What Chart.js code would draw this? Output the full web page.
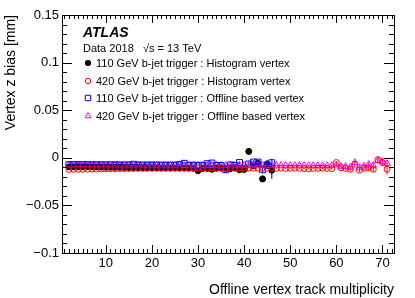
<!DOCTYPE html>
<html>
<head>
<meta charset="utf-8">
<script src="https://cdn.jsdelivr.net/npm/chart.js@4"></script>
<style>
  body { margin: 0; background: #fff; }
  #wrap { width: 415px; height: 298px; }
</style>
</head>
<body>
<div id="wrap"><canvas id="vz"></canvas></div>
<script>
// track multiplicity bins
const mult110 = [2,3,4,5,6,7,8,9,10,11,12,13,14,15,16,17,18,19,20,21,22,23,24,25,26,27,28,29,30,31,32,33,34,35,36,37,38,39,40,41,42,43,44,45,46];
const mult420 = [2,3,4,5,6,7,8,9,10,11,12,13,14,15,16,17,18,19,20,21,22,23,24,25,26,27,28,29,30,31,32,33,34,35,36,37,38,39,40,41,42,43,44,45,46,47,48,49,50,51,52,53,54,55,56,57,58,59,60,61,62,63,64,65,66,67,68,69,70,71];

// 110 GeV b-jet trigger : Histogram vertex
const hist110 = [-0.0095,-0.0095,-0.0094,-0.0095,-0.0094,-0.0096,-0.0096,-0.0097,-0.0098,-0.0099,-0.0099,-0.0100,-0.0101,-0.0101,-0.0102,-0.0103,-0.0103,-0.0104,-0.0105,-0.0105,-0.0106,-0.0106,-0.0107,-0.0107,-0.0108,-0.0108,-0.0109,-0.0110,-0.0135,-0.0112,-0.0112,-0.0120,-0.0110,-0.0108,-0.0112,-0.0115,-0.0108,-0.0125,-0.0122,0.0067,-0.0085,-0.0060,-0.0222,-0.0065,-0.0130];
const hist110Err = [0.0003,0.0003,0.0003,0.0003,0.0003,0.0003,0.0003,0.0003,0.0003,0.0003,0.0003,0.0003,0.0003,0.0003,0.0003,0.0003,0.0003,0.0003,0.0003,0.0003,0.0003,0.0003,0.0003,0.0003,0.0004,0.0004,0.0004,0.0005,0.0006,0.0006,0.0007,0.0008,0.0009,0.0010,0.0011,0.0012,0.0014,0.0016,0.0018,0.0035,0.0022,0.0028,0.0035,0.0040,0.0090];

// 420 GeV b-jet trigger : Histogram vertex
const hist420 = [-0.0122,-0.0121,-0.0120,-0.0120,-0.0119,-0.0118,-0.0118,-0.0117,-0.0116,-0.0115,-0.0114,-0.0114,-0.0113,-0.0112,-0.0112,-0.0111,-0.0111,-0.0110,-0.0110,-0.0110,-0.0109,-0.0109,-0.0109,-0.0108,-0.0108,-0.0108,-0.0108,-0.0107,-0.0107,-0.0107,-0.0107,-0.0107,-0.0106,-0.0106,-0.0106,-0.0106,-0.0107,-0.0107,-0.0108,-0.0108,-0.0109,-0.0109,-0.0110,-0.0110,-0.0110,-0.0110,-0.0108,-0.0112,-0.0110,-0.0109,-0.0111,-0.0113,-0.0115,-0.0112,-0.0110,-0.0108,-0.0112,-0.0114,-0.0050,-0.0105,-0.0112,-0.0120,-0.0068,-0.0130,-0.0110,-0.0105,-0.0120,-0.0020,-0.0050,-0.0120];
const hist420Err = [0.0003,0.0003,0.0003,0.0003,0.0003,0.0003,0.0003,0.0003,0.0003,0.0003,0.0003,0.0003,0.0003,0.0003,0.0003,0.0003,0.0003,0.0003,0.0003,0.0003,0.0003,0.0003,0.0003,0.0003,0.0003,0.0003,0.0003,0.0003,0.0003,0.0003,0.0003,0.0003,0.0003,0.0003,0.0003,0.0003,0.0003,0.0003,0.0004,0.0004,0.0004,0.0004,0.0005,0.0005,0.0005,0.0005,0.0006,0.0006,0.0007,0.0007,0.0008,0.0008,0.0009,0.0009,0.0010,0.0011,0.0012,0.0013,0.0014,0.0015,0.0016,0.0018,0.0020,0.0022,0.0024,0.0026,0.0028,0.0030,0.0032,0.0055];

// 110 GeV b-jet trigger : Offline based vertex
const offl110 = [-0.0072,-0.0072,-0.0071,-0.0072,-0.0072,-0.0073,-0.0073,-0.0073,-0.0074,-0.0074,-0.0074,-0.0075,-0.0075,-0.0075,-0.0068,-0.0075,-0.0076,-0.0076,-0.0076,-0.0076,-0.0077,-0.0077,-0.0077,-0.0077,-0.0072,-0.0058,-0.0078,-0.0078,-0.0079,-0.0080,-0.0062,-0.0055,-0.0080,-0.0082,-0.0125,-0.0075,-0.0080,-0.0050,-0.0110,-0.0065,-0.0045,-0.0045,-0.0125,-0.0080,-0.0052];
const offl110Err = [0.0003,0.0003,0.0003,0.0003,0.0003,0.0003,0.0003,0.0003,0.0003,0.0003,0.0003,0.0003,0.0003,0.0003,0.0003,0.0003,0.0003,0.0003,0.0003,0.0003,0.0003,0.0003,0.0003,0.0003,0.0004,0.0004,0.0004,0.0005,0.0005,0.0006,0.0007,0.0008,0.0009,0.0010,0.0011,0.0012,0.0013,0.0015,0.0017,0.0019,0.0022,0.0025,0.0028,0.0032,0.0040];

// 420 GeV b-jet trigger : Offline based vertex
const offl420 = [-0.0082,-0.0082,-0.0081,-0.0081,-0.0081,-0.0080,-0.0080,-0.0080,-0.0080,-0.0080,-0.0080,-0.0080,-0.0080,-0.0080,-0.0080,-0.0080,-0.0080,-0.0080,-0.0080,-0.0080,-0.0080,-0.0080,-0.0080,-0.0080,-0.0080,-0.0080,-0.0080,-0.0080,-0.0080,-0.0080,-0.0080,-0.0079,-0.0079,-0.0079,-0.0079,-0.0079,-0.0079,-0.0079,-0.0079,-0.0079,-0.0079,-0.0079,-0.0079,-0.0079,-0.0079,-0.0079,-0.0079,-0.0080,-0.0080,-0.0080,-0.0080,-0.0081,-0.0081,-0.0081,-0.0082,-0.0080,-0.0082,-0.0082,-0.0075,-0.0090,-0.0090,-0.0100,-0.0050,-0.0100,-0.0085,-0.0070,-0.0080,-0.0030,-0.0040,-0.0060];
const offl420Err = [0.0003,0.0003,0.0003,0.0003,0.0003,0.0003,0.0003,0.0003,0.0003,0.0003,0.0003,0.0003,0.0003,0.0003,0.0003,0.0003,0.0003,0.0003,0.0003,0.0003,0.0003,0.0003,0.0003,0.0003,0.0003,0.0003,0.0003,0.0003,0.0003,0.0003,0.0003,0.0003,0.0003,0.0003,0.0003,0.0003,0.0003,0.0003,0.0004,0.0004,0.0004,0.0004,0.0005,0.0005,0.0005,0.0005,0.0006,0.0006,0.0007,0.0007,0.0008,0.0008,0.0009,0.0009,0.0010,0.0011,0.0012,0.0013,0.0014,0.0015,0.0016,0.0018,0.0020,0.0022,0.0024,0.0026,0.0028,0.0030,0.0032,0.0040];

const xTicks = [10, 20, 30, 40, 50, 60, 70];
const xTickLabels = ['10', '20', '30', '40', '50', '60', '70'];
const yTicks = [-0.1, -0.05, 0, 0.05, 0.1, 0.15];
const yTickLabels = ['\u22120.1', '\u22120.05', '0', '0.05', '0.1', '0.15'];
const legendLabels = [
    '110 GeV b-jet trigger : Histogram vertex',
    '420 GeV b-jet trigger : Histogram vertex',
    '110 GeV b-jet trigger : Offline based vertex',
    '420 GeV b-jet trigger : Offline based vertex'
];

function pts(xs, ys, es){
    return xs.map((x, i) => ({x: x, y: ys[i], e: es[i]}));
}

const FONT = '"Liberation Sans", Arial, Helvetica, sans-serif';

// error bars under the markers
const errorBars = {
    id: 'errorBars',
    beforeDatasetsDraw(chart){
        const ctx = chart.ctx;
        const ys = chart.scales.y;
        ctx.save();
        chart.data.datasets.forEach((ds, di) => {
            const meta = chart.getDatasetMeta(di);
            ctx.strokeStyle = ds.borderColor;
            ctx.lineWidth = 1;
            meta.data.forEach((p, i) => {
                const d = ds.data[i];
                const top = ys.getPixelForValue(d.y + d.e);
                const bot = ys.getPixelForValue(d.y - d.e);
                ctx.beginPath();
                ctx.moveTo(p.x, top);
                ctx.lineTo(p.x, bot);
                ctx.stroke();
            });
        });
        ctx.restore();
    }
};

// ROOT style frame, inward ticks, labels and legend
const atlasFrame = {
    id: 'atlasFrame',
    afterDraw(chart){
        const ctx = chart.ctx;
        const a = chart.chartArea;
        const xs = chart.scales.x;
        const ys = chart.scales.y;
        ctx.save();
        ctx.strokeStyle = '#000';
        ctx.lineWidth = 1;
        ctx.strokeRect(Math.round(a.left) + 0.5, Math.round(a.top) + 0.5, Math.round(a.right - a.left), Math.round(a.bottom - a.top));

        ctx.beginPath();
        for(let v = 1; v <= 72; v++){
            const px = Math.round(xs.getPixelForValue(v)) + 0.5;
            const len = (v % 10 === 0) ? 8 : 4;
            ctx.moveTo(px, a.bottom); ctx.lineTo(px, a.bottom - len);
            ctx.moveTo(px, a.top); ctx.lineTo(px, a.top + len);
        }
        for(let k = -10; k <= 15; k++){
            const py = Math.round(ys.getPixelForValue(k / 100)) + 0.5;
            const len = (k % 5 === 0) ? 10 : 5;
            ctx.moveTo(a.left, py); ctx.lineTo(a.left + len, py);
            ctx.moveTo(a.right, py); ctx.lineTo(a.right - len, py);
        }
        ctx.stroke();

        ctx.fillStyle = '#000';
        ctx.font = '13px ' + FONT;
        ctx.textAlign = 'center';
        ctx.textBaseline = 'top';
        xTicks.forEach((v, i) => ctx.fillText(xTickLabels[i], xs.getPixelForValue(v), a.bottom + 4));
        ctx.textAlign = 'right';
        ctx.textBaseline = 'middle';
        yTicks.forEach((v, i) => ctx.fillText(yTickLabels[i], a.left - 3, ys.getPixelForValue(v)));

        ctx.font = '14px ' + FONT;
        ctx.textAlign = 'right';
        ctx.textBaseline = 'alphabetic';
        ctx.fillText('Offline vertex track multiplicity', a.right, 294);
        ctx.save();
        ctx.translate(15, a.top);
        ctx.rotate(-Math.PI / 2);
        ctx.textAlign = 'right';
        ctx.fillText('Vertex z bias [mm]', 0, 0);
        ctx.restore();

        ctx.textAlign = 'left';
        ctx.font = 'italic bold 14px ' + FONT;
        ctx.fillText('ATLAS', 83, 37);
        ctx.font = '11px ' + FONT;
        ctx.fillText('Data 2018   \u221As = 13 TeV', 83, 52);

        const rows = [63, 81, 98, 116];
        legendLabels.forEach((label, i) => {
            const ds = chart.data.datasets.find(d => d.label === label);
            ctx.textBaseline = 'middle';
            ctx.fillStyle = '#000';
            ctx.font = '11px ' + FONT;
            ctx.fillText(label, 96, rows[i] + 0.5);
            ctx.strokeStyle = ds.borderColor;
            ctx.fillStyle = ds.backgroundColor;
            ctx.lineWidth = 1;
            Chart.helpers.drawPoint(ctx, {pointStyle: ds.pointStyle, radius: ds.pointRadius * 0.9, borderWidth: 1}, 88, rows[i]);
        });
        ctx.restore();
    }
};

new Chart(document.getElementById('vz'), {
    type: 'scatter',
    data: {
        datasets: [
            {
                label: legendLabels[1],
                data: pts(mult420, hist420, hist420Err),
                pointStyle: 'circle',
                pointRadius: 3,
                borderWidth: 1,
                borderColor: '#ff0000',
                backgroundColor: 'rgba(0,0,0,0)'
            },
            {
                label: legendLabels[2],
                data: pts(mult110, offl110, offl110Err),
                pointStyle: 'rect',
                pointRadius: 4.2,
                borderWidth: 1,
                borderColor: '#0000ff',
                backgroundColor: 'rgba(0,0,0,0)'
            },
            {
                label: legendLabels[3],
                data: pts(mult420, offl420, offl420Err),
                pointStyle: 'triangle',
                pointRadius: 3.8,
                borderWidth: 1,
                borderColor: '#ff00ff',
                backgroundColor: 'rgba(0,0,0,0)'
            },
            {
                label: legendLabels[0],
                data: pts(mult110, hist110, hist110Err),
                pointStyle: 'circle',
                pointRadius: 3,
                borderWidth: 1,
                borderColor: '#000000',
                backgroundColor: '#000000'
            }
        ]
    },
    options: {
        responsive: true,
        maintainAspectRatio: false,
        animation: false,
        layout: { padding: { left: 62, right: 21, top: 15, bottom: 45 } },
        plugins: { legend: { display: false }, tooltip: { enabled: false } },
        scales: {
            x: { type: 'linear', min: 0.5, max: 72.5, display: false },
            y: { type: 'linear', min: -0.1, max: 0.15, display: false }
        }
    },
    plugins: [errorBars, atlasFrame]
});
</script>
</body>
</html>
